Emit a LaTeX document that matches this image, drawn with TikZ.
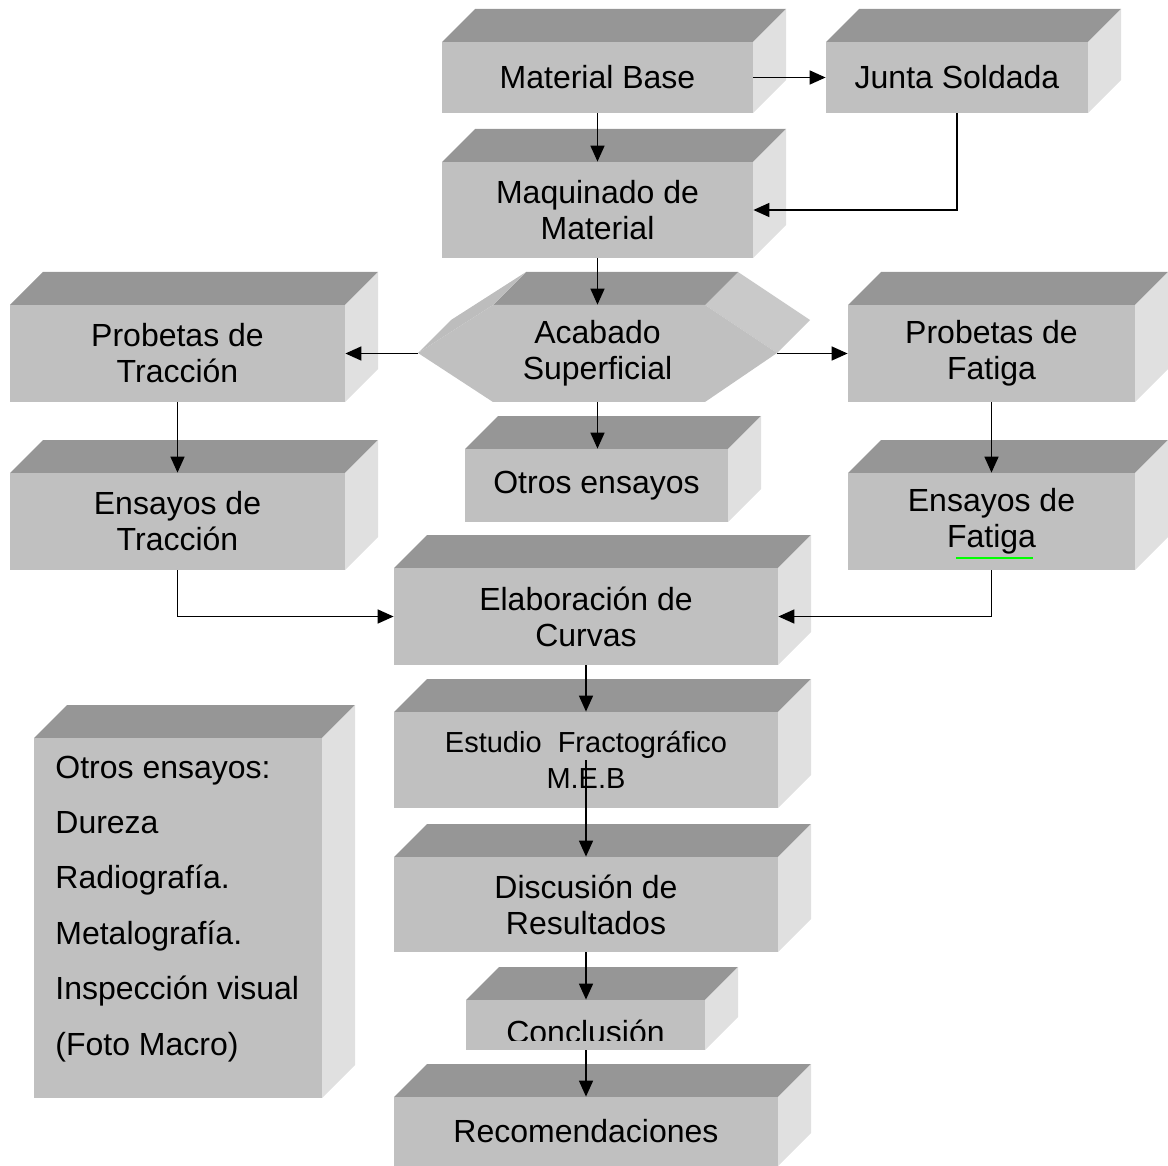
\documentclass[tikz,border=0pt]{standalone}
\usepackage{fontspec}
\setmainfont{Liberation Sans}
\usetikzlibrary{arrows.meta}

\definecolor{gfrente}{gray}{0.753}
\definecolor{gtapa}{gray}{0.59}
\definecolor{glado}{gray}{0.88}
\definecolor{gladohex}{gray}{0.79}
\definecolor{gladoizq}{gray}{0.74}
\definecolor{verde}{RGB}{0,255,0}

\tikzset{
  tapa/.style={fill=gtapa},
  lado/.style={fill=glado},
  frente/.style={fill=gfrente, inner sep=0pt, align=center, font=\fontsize{16}{18}\selectfont},
  texto/.style={inner sep=0pt, font=\fontsize{16}{18}\selectfont},
  flecha/.style={-{Triangle[length=8pt,width=7pt]}, line width=0.8pt, black}
}

% caja 3D: nombre, x izq, y sup, x der, y inf, texto
\newcommand{\caja}[6]{%
  \fill[tapa] (#2,#3) -- (#2+33,#3-33) -- (#4+33,#3-33) -- (#4,#3) -- cycle;
  \fill[lado] (#4,#3) -- (#4+33,#3-33) -- (#4+33,#5-33) -- (#4,#5) -- cycle;
  \node[frente, minimum width={(#4-#2)*0.5pt}, minimum height={(#5-#3)*0.5pt}] (#1) at ({(#2+#4)/2},{(#3+#5)/2}) {#6};
}

\begin{document}
\begin{tikzpicture}[x=0.5pt,y=-0.5pt]
\useasboundingbox (0,0) rectangle (1168,1166);

\caja{mbase}{442}{42}{753}{113}{Material Base}
\caja{junta}{826}{42}{1088}{113}{Junta Soldada}
\caja{maq}{442}{162}{753}{258}{Maquinado de\\Material}

% Acabado superficial (hexagono)
\fill[fill=gladohex] (705,305) -- (777,353) -- (810,320) -- (738,272) -- cycle;
\fill[tapa] (493,305) -- (705,305) -- (738,272) -- (526,272) -- cycle;
\fill[fill=gladoizq] (418,353) -- (493,305) -- (526,272) -- (451,320) -- cycle;
\fill[gfrente] (418,353) -- (493,305) -- (705,305) -- (777,353) -- (705,402) -- (493,402) -- cycle;
\node[frente, fill=none, minimum width=179.5pt, minimum height=48.5pt] (acab) at (597.5,353.5) {Acabado\\Superficial};

\caja{ptrac}{10}{305}{345}{402}{Probetas de\\Tracción}
\caja{pfat}{848}{305}{1135}{402}{Probetas de\\Fatiga}
\caja{otros}{465}{449}{728}{522}{Otros ensayos}
\caja{etrac}{10}{473}{345}{570}{Ensayos de\\Tracción}
\caja{efat}{848}{473}{1135}{570}{Ensayos de\\Fatiga}
\draw[verde, line width=1pt] (956,558) -- (1033,558);
\caja{curvas}{394}{568}{778}{665}{Elaboración de\\Curvas}
\caja{estudio}{394}{712}{778}{808}{\fontsize{14.5}{16}\selectfont Estudio\ \ Fractográfico\\\fontsize{14.5}{16}\selectfont M.E.B}
\caja{discus}{394}{857}{778}{952}{Discusión de\\Resultados}
\caja{concl}{466}{1000}{705}{1050}{}
\begin{scope}
  \clip (466,1000) rectangle (705,1040);
  \node[texto, anchor=base] (tconcl) at (585.5,1043) {Conclusión};
\end{scope}
\caja{recom}{394}{1097}{778}{1166}{Recomendaciones}

% otros ensayos (lista)
\caja{lista}{34}{738}{322}{1098}{}
\foreach \t [count=\i from 0] in {{Otros ensayos:},{Dureza},{Radiografía.},{Metalografía.},{Inspección visual},{(Foto Macro)}}
  \node[texto, anchor=base west] (linea\i) at (55,778+55.4*\i) {\t};

% conexiones
\draw[flecha] (mbase.south) -- (maq.north);
\draw[flecha] (mbase.east) -- (junta.west);
\draw[flecha] (junta.south) |- (maq.east);
\draw[flecha] (maq.south) -- (acab.north);
\draw[flecha] (acab.west) -- (acab.west -| ptrac.east);
\draw[flecha] (acab.east) -- (acab.east -| pfat.west);
\draw[flecha] (acab.south) -- (acab.south |- otros.north);
\draw[flecha] (ptrac.south) -- (etrac.north);
\draw[flecha] (pfat.south) -- (efat.north);
\draw[flecha] (etrac.south) |- (curvas.west);
\draw[flecha] (efat.south) |- (curvas.east);
\draw[flecha] (curvas.south) -- (estudio.north);
\draw[flecha] (estudio.center) -- (estudio.center |- discus.north);
\draw[flecha] (discus.south) -- (discus.south |- concl.north);
\draw[flecha] (discus.south |- concl.south) -- (discus.south |- recom.north);
\end{tikzpicture}
\end{document}
